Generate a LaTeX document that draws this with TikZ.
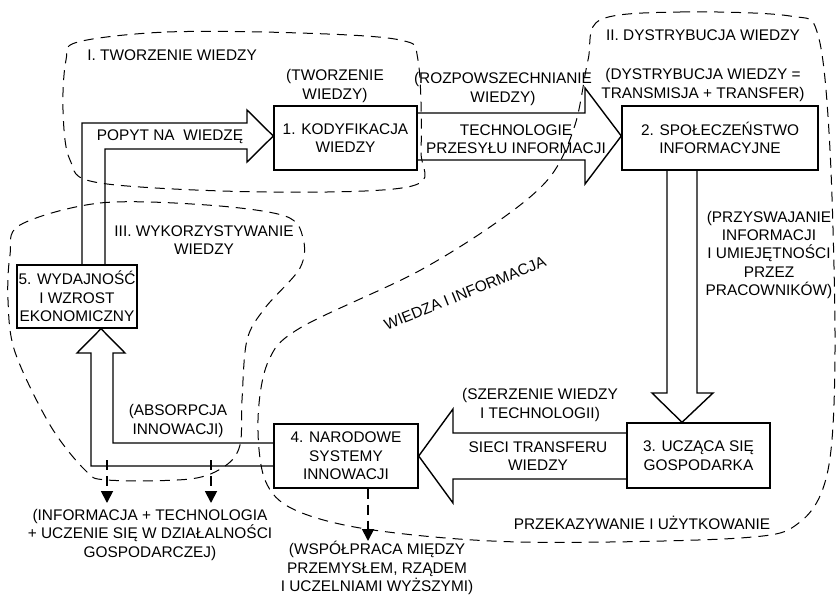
\documentclass[tikz,border=0pt]{standalone}
\usepackage{fontspec}
\setmainfont{Liberation Sans}
\usetikzlibrary{arrows.meta}

\begin{document}
\begin{tikzpicture}[x=0.5pt,y=-0.5pt,>={Triangle[length=6pt,width=6pt]},
  font=\fontsize{7.7}{9.2}\selectfont,line join=miter,
  box/.style={draw,line width=0.7pt,align=center,inner sep=0pt},
  bigarrow/.style={draw,line width=0.7pt},
  zone/.style={line width=0.5pt,dash pattern=on 5pt off 3.5pt},
  txt/.style={align=center,inner sep=0pt},
  dasharrow/.style={->,line width=0.9pt,dash pattern=on 5pt off 3pt}]
\useasboundingbox (0,0) rectangle (840,595);

% bloki
\node[box,minimum width=71.5pt,minimum height=32pt] (kod) at (345.5,138) {1. KODYFIKACJA\\WIEDZY};
\node[box,minimum width=98pt,minimum height=32pt] (spo) at (720,138) {2. SPOŁECZEŃSTWO\\INFORMACYJNE};
\node[box,minimum width=71.5pt,minimum height=32.5pt] (ucz) at (698.5,455.5) {3. UCZĄCA SIĘ\\GOSPODARKA};
\node[box,minimum width=72pt,minimum height=32pt] (nar) at (346,456) {4. NARODOWE\\SYSTEMY\\INNOWACJI};
\node[box,minimum width=60pt,minimum height=31.5pt] (wyd) at (77,296.5) {5. WYDAJNOŚĆ\\I WZROST\\EKONOMICZNY};

% duze strzalki
\draw[bigarrow] (kod.east |- 0,113) -- (585,113) -- (585,88) -- (spo.west |- 0,136)
  -- (585,184) -- (585,160) -- (kod.east |- 0,160);
\draw[bigarrow] (spo.south -| 667,0) -- (667,393) -- (652,393) -- (ucz.north -| 682,0)
  -- (713,393) -- (697,393) -- (spo.south -| 697,0);
\draw[bigarrow] (ucz.west |- 0,433) -- (453,433) -- (453,409) -- (nar.east)
  -- (453,503) -- (453,479) -- (ucz.west |- 0,479);
\draw[bigarrow] (nar.west |- 0,443) -- (113,443) -- (113,353) -- (125,353) -- (wyd.south -| 101,0)
  -- (77,353) -- (91,353) -- (91,466) -- (nar.west |- 0,466);
\draw[bigarrow] (wyd.north -| 82,0) -- (82,123) -- (247,123) -- (247,110) -- (kod.west |- 0,136)
  -- (247,162) -- (247,149) -- (105,149) -- (wyd.north -| 105,0);

% strzalki przerywane
\coordinate (inf1) at (107,460);
\coordinate (inf1e) at (107,503);
\coordinate (inf2) at (211,460);
\coordinate (inf2e) at (211,503);
\coordinate (wspe) at (368,541);
\draw[dasharrow] (inf1) -- (inf1e);
\draw[dasharrow] (inf2) -- (inf2e);
\draw[dasharrow] (nar.south -| 368,0) -- (wspe);

% obszary
\draw[zone] plot[smooth cycle,tension=0.55] coordinates {(78,42) (167,32) (300,33) (400,40)
  (418,60) (421,150) (412,186) (267,192) (100,183) (70,160) (63,110) (66,60)};
\draw[zone] plot[smooth cycle,tension=0.55] coordinates {(600,20) (680,12) (790,16) (818,35)
  (830,150) (835,350) (828,470) (800,522) (740,538) (520,542) (373,530) (295,510) (265,480)
  (258,420) (268,362) (300,328) (417,272) (500,220) (550,177) (575,125) (588,60)};
\draw[zone] plot[smooth cycle,tension=0.55] coordinates {(20,225) (100,203) (207,205) (285,216)
  (303,238) (300,268) (265,308) (247,340) (242,400) (240,445) (225,466) (190,479) (107,480)
  (85,470) (50,425) (15,352) (8,300) (10,255)};

% opisy
\node[txt,anchor=west] (tw) at (87,55) {I. TWORZENIE WIEDZY};
\node[txt] (twn) at (335,86) {(TWORZENIE\\WIEDZY)};
\node[txt] (pop) at (170,137) {POPYT NA \ WIEDZĘ};
\node[txt] (roz) at (503,89) {(ROZPOWSZECHNIANIE\\WIEDZY)};
\node[txt] (tech) at (516,139) {TECHNOLOGIE\\PRZESYŁU INFORMACJI};
\node[txt] (dys) at (703,35) {II. DYSTRYBUCJA WIEDZY};
\node[txt] (dysn) at (703,85) {(DYSTRYBUCJA WIEDZY =\\TRANSMISJA + TRANSFER)};
\node[txt] (prz) at (769,255) {(PRZYSWAJANIE\\INFORMACJI\\I UMIEJĘTNOŚCI\\PRZEZ\\PRACOWNIKÓW)};
\node[txt] (wyk) at (204,240) {III. WYKORZYSTYWANIE\\WIEDZY};
\node[txt,rotate=22] (wi) at (465,293) {WIEDZA I INFORMACJA};
\node[txt] (szer) at (540,405) {(SZERZENIE WIEDZY\\I TECHNOLOGII)};
\node[txt] (sieci) at (538,456) {SIECI TRANSFERU\\WIEDZY};
\node[txt] (abs) at (178,421) {(ABSORPCJA\\INNOWACJI)};
\node[txt] (prk) at (642,523) {PRZEKAZYWANIE I UŻYTKOWANIE};
\node[txt] (infn) at (150,535) {(INFORMACJA + TECHNOLOGIA\\+ UCZENIE SIĘ W DZIAŁALNOŚCI\\GOSPODARCZEJ)};
\node[txt] (wsp) at (377,568) {(WSPÓŁPRACA MIĘDZY\\PRZEMYSŁEM, RZĄDEM\\I UCZELNIAMI WYŻSZYMI)};
\end{tikzpicture}
\end{document}
